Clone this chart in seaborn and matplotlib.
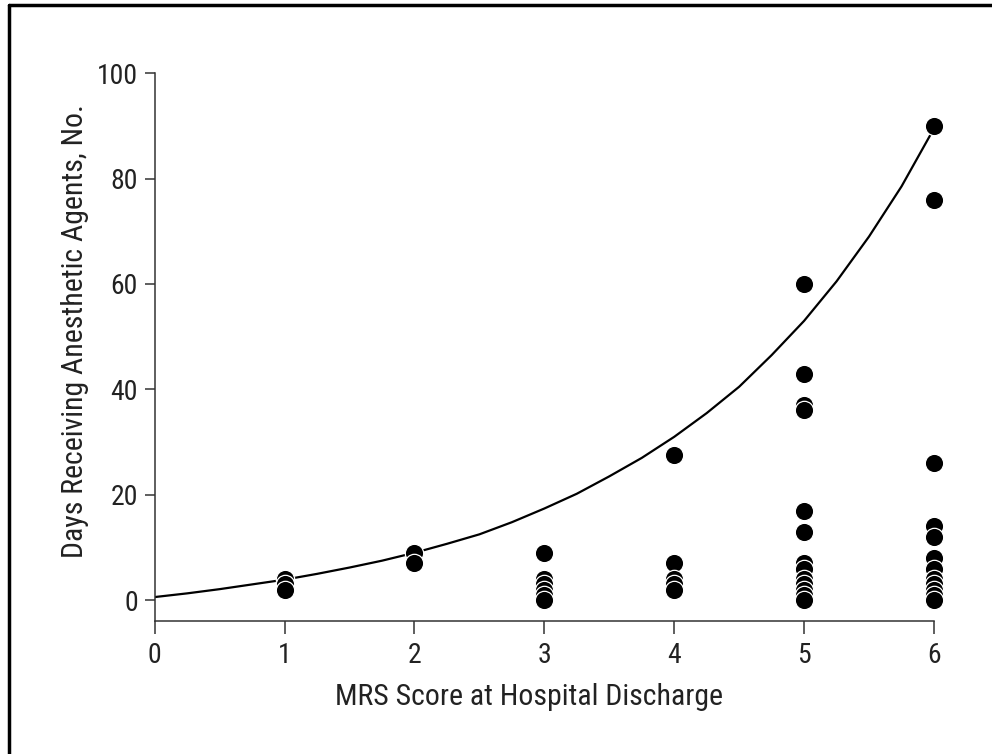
import matplotlib
matplotlib.use("Agg")
import matplotlib.pyplot as plt
import seaborn as sns
import pandas as pd
from matplotlib.lines import Line2D
from matplotlib import font_manager

# ---- data ----
mrs_1 = [4, 3, 2]
mrs_2 = [9, 7]
mrs_3 = [9, 4, 3, 2, 1, 0]
mrs_4 = [27.5, 7, 4, 3, 2]
mrs_5 = [60, 43, 37, 36, 17, 13, 7, 6, 4, 3, 2, 1, 0]
mrs_6 = [90, 76, 26, 14, 12, 8, 6, 4, 3, 2, 1, 0]

curve_x = [0, 0.25, 0.5, 0.75, 1, 1.25, 1.5, 1.75, 2, 2.25, 2.5, 2.75, 3,
           3.25, 3.5, 3.75, 4, 4.25, 4.5, 4.75, 5, 5.25, 5.5, 5.75, 6]
curve_y = [0.6, 1.3, 2.1, 3.0, 3.9, 5.0, 6.2, 7.5, 9.0, 10.7, 12.5, 14.8, 17.4,
           20.2, 23.5, 27.0, 31.0, 35.5, 40.5, 46.5, 53.0, 60.5, 69.0, 78.5, 89.5]

x_ticks = [0, 1, 2, 3, 4, 5, 6]
y_ticks = [0, 20, 40, 60, 80, 100]
x_label = "MRS Score at Hospital Discharge"
y_label = "Days Receiving Anesthetic Agents, No."

groups = {1: mrs_1, 2: mrs_2, 3: mrs_3, 4: mrs_4, 5: mrs_5, 6: mrs_6}
rows = [(k, v) for k, vals in groups.items() for v in vals]
df = pd.DataFrame(rows, columns=["mrs", "days"])
curve = pd.DataFrame({"x": curve_x, "y": curve_y})

sns.set_style("ticks")
available = {f.name for f in font_manager.fontManager.ttflist}
fams = [f for f in ["Liberation Sans Narrow", "DejaVu Sans Condensed",
                    "Roboto Condensed", "Liberation Sans"] if f in available]
plt.rcParams["font.family"] = fams + ["DejaVu Sans"]

fig = plt.figure(figsize=(9.92, 7.54), dpi=100)
ax = fig.add_axes([0.156, 0.176, 0.7855, 0.727])

sns.lineplot(data=curve, x="x", y="y", ax=ax, color="black", linewidth=1.6,
             estimator=None, sort=True)
sns.scatterplot(data=df, x="mrs", y="days", ax=ax, color="black", s=175,
                edgecolor="white", linewidth=0.9, clip_on=False, zorder=3)

ax.set_xlim(0, 6)
ax.set_ylim(-4, 100)
ax.set_xticks(x_ticks)
ax.set_yticks(y_ticks)
ax.set_xticklabels([str(t) for t in x_ticks])
ax.set_yticklabels([str(t) for t in y_ticks])
ax.tick_params(axis="both", labelsize=20, color="#333333", width=1.1,
               labelcolor="#222222")
ax.tick_params(axis="x", length=9, pad=6)
ax.tick_params(axis="y", length=7, pad=5)
for side in ["top", "right"]:
    ax.spines[side].set_visible(False)
for side in ["left", "bottom"]:
    ax.spines[side].set_color("#333333")
    ax.spines[side].set_linewidth(1.1)

ax.set_xlabel(x_label, fontsize=21.5, color="#222222")
ax.set_ylabel(y_label, fontsize=21.5, color="#222222")
ax.xaxis.set_label_coords(0.48, -0.112)
ax.yaxis.set_label_coords(-0.084, 0.53)

# border of the original figure panel (top and left)
fig.add_artist(Line2D([0.009, 0.009], [0, 0.993], transform=fig.transFigure,
                      color="black", linewidth=2.5))
fig.add_artist(Line2D([0.009, 1.0], [0.993, 0.993], transform=fig.transFigure,
                      color="black", linewidth=2.5))

fig.savefig("out.png", dpi=100)
